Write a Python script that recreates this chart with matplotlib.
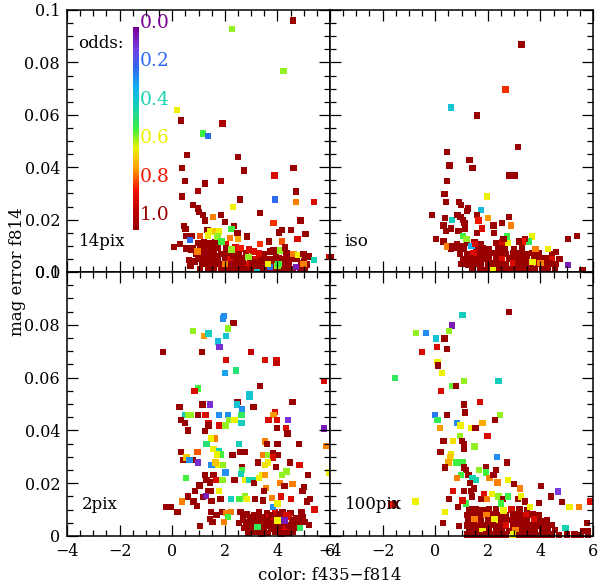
import numpy as np
import matplotlib.pyplot as plt
from matplotlib.colors import LinearSegmentedColormap
from matplotlib.ticker import MultipleLocator, FixedLocator, FixedFormatter

# colour scale for the photo-z odds
odds_stops = [0.0, 0.1, 0.2, 0.3, 0.4, 0.5, 0.6, 0.7, 0.8, 0.9, 1.0]
odds_colors = ['#76008f', '#7a3ce0', '#2f6af2', '#14b2f0', '#16d4b0', '#3cf040',
               '#eef200', '#ff9c00', '#f21600', '#c00000', '#990000']
odds_ticks = [0.0, 0.2, 0.4, 0.6, 0.8, 1.0]

xticks = [-4, -2, 0, 2, 4, 6]
yticks = [0.0, 0.02, 0.04, 0.06, 0.08, 0.1]
ylabels_top = ['0.0', '0.02', '0.04', '0.06', '0.08', '0.1']
ylabels_bot = ['0', '0.02', '0.04', '0.06', '0.08', '0.1']

# (color f435-f814, mag error f814 in 1e-3 mag, odds)
pts_14pix = [
    # dense clump
    (1.0, 11.0, 1), (1.2, 11.3, 1), (1.45, 11.0, 1), (1.65, 11.2, 1), (2.05, 10.8, .85),
    (0.8, 9.2, 1), (1.05, 9.0, 1), (1.3, 9.3, 1), (1.55, 8.8, 1), (1.75, 9.1, 1),
    (2.05, 9.2, 1), (2.4, 9.4, .85), (2.6, 9.0, .8),
    (0.9, 6.8, 1), (1.15, 7.2, 1), (1.35, 6.9, 1), (1.6, 7.1, 1), (1.85, 6.8, 1),
    (2.1, 7.0, 1), (2.35, 7.2, .85), (2.55, 6.8, 1), (2.8, 7.0, 1), (3.5, 6.8, 1),
    (3.95, 7.0, 1), (4.35, 7.2, 1),
    (0.65, 4.6, 1), (1.0, 5.0, 1), (1.25, 5.2, 1), (1.5, 4.8, 1), (1.75, 5.0, 1),
    (2.0, 5.2, 1), (2.2, 4.8, .85), (2.45, 5.0, 1), (2.7, 5.2, 1), (2.95, 4.8, 1),
    (3.2, 5.0, .85), (3.4, 5.2, 1), (3.6, 4.8, 1), (3.85, 5.0, 1), (4.05, 5.2, 1),
    (4.3, 4.8, 1), (4.5, 5.0, 1), (4.75, 5.2, 1), (5.0, 4.8, 1),
    (0.7, 2.5, 1), (1.15, 3.0, 1), (1.4, 2.8, 1), (1.65, 3.2, 1), (1.9, 2.8, 1),
    (2.15, 3.1, 1), (2.4, 2.9, 1), (2.6, 3.2, 1), (2.85, 2.8, .85), (3.05, 3.0, 1),
    (3.3, 3.2, 1), (3.5, 2.8, 1), (3.8, 3.0, 1), (4.25, 3.1, 1), (4.45, 2.9, 1),
    (4.9, 3.2, 1), (5.1, 2.8, 1),
    (1.05, 1.0, 1), (1.35, 1.2, 1), (1.6, 0.8, 1), (1.85, 1.0, 1), (2.1, 1.2, 1),
    (2.3, 0.8, 1), (2.55, 1.0, 1), (2.75, 1.2, 1), (3.0, 0.8, 1), (3.25, 1.0, 1),
    (3.45, 1.2, 1), (3.7, 0.8, 1), (3.9, 1.0, 1), (4.15, 1.2, 1), (4.35, 0.8, 1),
    (4.6, 1.0, 1), (4.85, 1.2, 1), (5.05, 0.8, 1),
    (0.85, 4.0, 1), (1.3, 6.0, 1), (1.7, 6.2, 1), (2.3, 6.0, 1), (2.7, 3.9, 1),
    (3.1, 3.9, 1), (3.6, 4.0, 1), (4.1, 4.0, 1), (2.5, 1.9, 1), (3.35, 2.0, 1),
    # scattered points
    (4.59, 96.0, 1), (2.27, 92.8, .55), (4.23, 76.8, .55), (0.19, 61.8, .6),
    (0.34, 57.8, 1), (1.91, 56.7, .95), (1.17, 52.8, .5), (1.35, 51.8, .2),
    (0.56, 44.7, 1), (2.50, 43.8, 1), (0.38, 39.7, 1), (4.61, 39.7, 1),
    (2.74, 38.7, 1), (3.89, 36.8, .85), (0.48, 34.7, 1), (1.85, 34.7, .95),
    (1.25, 33.8, 1), (0.97, 30.8, .95), (4.70, 30.7, 1), (0.38, 28.8, 1),
    (2.59, 27.7, 1), (3.90, 27.7, .2), (4.70, 26.7, .72), (5.38, 26.7, .85),
    (0.80, 25.6, 1), (0.99, 24.3, 1), (2.31, 24.7, .6), (3.34, 22.6, 1),
    (1.18, 21.8, 1), (1.02, 22.9, 1), (1.86, 21.8, 1), (1.54, 20.9, .72),
    (4.88, 19.6, 1), (1.24, 19.7, 1), (2.00, 19.1, 1), (3.85, 18.6, .78),
    (0.45, 17.6, 1), (2.35, 17.6, 1), (2.26, 16.4, .5), (1.34, 16.0, 1),
    (4.18, 16.0, 1), (4.52, 16.0, 1), (0.50, 16.4, 1), (4.05, 15.1, 1),
    (5.07, 14.6, 1), (1.46, 15.4, .6), (1.62, 15.6, .65), (1.78, 15.5, .6),
    (2.48, 14.8, 1), (2.84, 13.6, 1), (0.52, 13.7, 1), (0.75, 13.7, 1),
    (1.06, 13.7, .75), (1.37, 14.0, .6), (1.72, 13.5, .55), (2.20, 12.9, .72),
    (2.51, 12.5, .68), (0.68, 12.2, .2), (1.88, 11.6, .5), (4.76, 12.5, .85),
    (3.67, 11.6, 1), (4.17, 11.6, .75), (3.34, 10.7, .78), (0.06, 9.5, 1),
    (0.30, 10.6, 1), (0.55, 9.0, 1), (0.74, 8.4, 1), (0.96, 7.8, .72),
    (2.26, 8.6, .55), (2.92, 8.6, .85), (3.09, 7.8, .85), (3.31, 7.1, .85),
    (3.72, 7.8, 1), (3.85, 8.2, 1), (4.10, 8.2, .55), (4.29, 9.4, 1),
    (4.61, 6.9, .72), (4.80, 6.5, .6), (4.99, 6.9, 1), (5.21, 5.9, 1),
    (5.39, 4.6, .4), (5.96, 5.7, .85), (2.90, 5.7, .55), (4.70, 2.0, .05),
    (3.71, 2.0, .2), (4.01, 2.2, .55), (3.22, 0.0, .35), (3.65, 3.0, .6),
    (4.04, 3.0, .5), (2.01, 3.0, .72), (4.99, 3.0, .72),
]

pts_iso = [
    (1.2, 11.0, 1), (1.5, 11.2, 1), (1.75, 10.8, 1), (2.3, 11.0, 1), (2.55, 11.2, .85),
    (0.6, 9.0, 1), (0.85, 9.2, 1), (1.1, 8.8, 1), (1.55, 9.0, 1), (1.8, 9.2, 1),
    (2.05, 8.8, 1), (2.4, 9.0, 1), (2.65, 9.2, 1), (3.0, 8.8, 1), (3.3, 9.0, 1),
    (0.95, 7.0, 1), (1.2, 6.8, 1), (1.45, 7.2, .85), (1.7, 7.0, 1), (1.95, 6.8, 1),
    (2.2, 7.2, 1), (2.45, 7.0, 1), (2.7, 6.8, 1), (2.95, 7.2, 1), (3.2, 7.0, 1),
    (3.45, 6.8, 1), (3.7, 7.2, 1), (3.95, 7.0, 1), (4.45, 6.8, 1),
    (1.05, 5.0, 1), (1.3, 5.2, 1), (1.55, 4.8, 1), (1.8, 5.0, 1), (2.05, 5.2, 1),
    (2.3, 4.8, 1), (2.55, 5.0, .85), (2.8, 5.2, 1), (3.0, 4.8, 1), (3.25, 5.0, 1),
    (3.5, 5.2, 1), (3.75, 4.8, 1), (4.0, 5.0, 1), (4.2, 5.2, 1), (4.45, 4.8, .85),
    (4.7, 5.0, 1),
    (1.0, 3.0, 1), (1.25, 2.8, 1), (1.5, 3.2, 1), (1.75, 3.0, 1), (2.0, 2.8, 1),
    (2.25, 3.2, 1), (2.45, 3.0, 1), (2.7, 2.8, 1), (2.95, 3.2, .85), (3.15, 3.0, 1),
    (3.4, 2.8, 1), (3.65, 3.2, 1), (3.9, 3.0, 1), (4.1, 2.8, 1), (4.35, 3.2, 1),
    (4.6, 3.0, 1),
    (1.4, 1.0, 1), (1.7, 1.2, 1), (1.95, 0.8, 1), (2.2, 1.0, 1), (2.45, 1.2, 1),
    (2.65, 0.8, 1), (2.9, 1.0, 1), (3.1, 1.2, 1), (3.35, 0.8, 1), (3.55, 1.0, 1),
    (3.8, 1.2, 1), (4.05, 0.8, 1), (4.3, 1.0, 1), (4.55, 1.2, 1),
    (3.28, 86.9, 1), (2.67, 69.7, .78), (0.61, 62.8, .35), (1.58, 59.8, 1),
    (3.14, 47.8, 1), (0.46, 45.7, 1), (1.30, 42.7, 1), (0.54, 40.7, 1),
    (1.42, 39.7, 1), (2.81, 36.8, 1), (3.03, 36.8, 1), (0.44, 34.7, 1),
    (0.35, 29.8, 1), (1.96, 28.8, .6), (0.40, 26.6, 1), (0.91, 26.6, 1),
    (0.99, 25.6, 1), (1.25, 24.2, 1), (1.20, 23.2, 1), (1.73, 23.7, .33),
    (-0.13, 21.8, 1), (0.38, 20.7, 1), (0.63, 19.8, .38), (0.85, 21.8, 1),
    (0.96, 20.9, 1), (1.06, 19.8, 1), (1.12, 18.8, 1), (1.58, 21.8, 1),
    (1.64, 19.6, .8), (2.00, 20.7, .7), (2.81, 20.9, 1), (2.53, 18.8, 1),
    (2.22, 17.8, 1), (2.88, 17.8, .72), (0.32, 17.8, 1), (0.40, 15.7, 1),
    (0.60, 16.6, 1), (0.88, 15.7, 1), (1.14, 16.6, 1), (1.58, 15.0, 1),
    (1.77, 16.6, .85), (2.23, 14.8, 1), (0.03, 12.6, 1), (0.32, 11.6, 1),
    (1.06, 13.7, .5), (1.19, 12.5, .55), (2.72, 13.5, .5), (2.78, 11.0, .6),
    (2.60, 12.5, 1), (3.67, 13.5, .6), (3.57, 11.6, .48), (3.42, 12.5, 1),
    (3.35, 11.6, .8), (3.19, 11.6, 1), (5.06, 12.7, 1), (5.39, 13.7, 1),
    (0.44, 9.7, .72), (0.63, 9.7, 1), (0.82, 10.6, 1), (1.01, 9.7, 1),
    (1.38, 9.9, .3), (1.52, 10.8, .85), (3.82, 8.7, .72), (4.30, 8.7, .6),
    (4.60, 7.6, 1), (4.72, 5.0, 1), (5.06, 2.7, .05), (5.60, 0.8, 1),
    (-3.95, 5.7, 1), (2.19, 0.8, .6), (3.70, 3.8, .6), (4.00, 3.5, .72),
]

pts_2pix = [
    (2.6, 9.0, 1), (3.3, 9.2, 1), (3.6, 8.8, 1), (3.9, 9.0, .85), (4.2, 9.2, 1), (4.5, 8.8, 1),
    (2.7, 7.0, 1), (2.95, 7.2, 1), (3.2, 6.8, 1), (3.45, 7.0, 1), (3.7, 7.2, .85),
    (3.95, 6.8, 1), (4.2, 7.0, 1), (4.45, 7.2, .85), (4.7, 6.8, 1), (4.95, 7.0, 1),
    (2.55, 5.0, 1), (2.8, 5.2, 1), (3.05, 4.8, 1), (3.3, 5.0, 1), (3.55, 5.2, 1),
    (3.8, 4.8, 1), (4.05, 5.0, .85), (4.3, 5.2, 1), (4.55, 4.8, .85), (4.8, 5.0, 1),
    (5.05, 5.2, 1),
    (2.75, 3.0, 1), (3.0, 2.8, 1), (3.25, 3.2, 1), (3.5, 3.0, 1), (3.75, 2.8, 1),
    (4.0, 3.2, 1), (4.25, 3.0, .85), (4.5, 2.8, 1), (4.75, 3.2, 1),
    (2.9, 1.2, 1), (3.15, 1.4, 1), (3.4, 1.0, 1), (3.65, 1.2, 1), (3.9, 1.4, 1),
    (4.15, 1.0, 1), (4.4, 1.2, 1), (4.6, 1.4, 1),
    (2.85, 8.2, 1), (3.1, 8.0, 1), (3.75, 8.0, 1), (4.05, 8.1, 1), (4.35, 8.0, .85),
    (2.7, 6.0, 1), (3.0, 6.1, 1), (3.35, 6.0, 1), (3.65, 6.1, 1), (3.95, 6.0, 1),
    (4.25, 6.1, 1), (4.6, 6.0, 1), (3.1, 4.0, 1), (3.4, 4.1, 1), (3.7, 4.0, 1),
    (4.1, 4.0, 1), (4.4, 4.1, 1), (4.65, 4.0, 1), (3.0, 2.1, 1), (3.5, 2.0, 1),
    (4.0, 2.1, 1), (4.5, 2.0, 1),
    (1.97, 83.4, .25), (1.92, 82.4, .25), (2.33, 80.8, 1), (2.11, 78.6, .55),
    (0.78, 77.7, .55), (1.22, 75.7, .7), (1.38, 76.7, .38), (2.05, 75.7, .35),
    (1.73, 73.7, .33), (1.80, 71.7, .08), (-0.35, 69.8, 1), (1.13, 69.8, 1),
    (2.99, 69.8, .9), (2.04, 66.6, .85), (3.54, 66.6, .85), (3.96, 66.6, .85),
    (3.96, 65.5, .9), (2.42, 62.7, .45), (2.01, 61.7, .28), (5.77, 58.8, .85),
    (3.33, 56.8, 1), (0.97, 55.9, .5), (0.85, 54.9, .85), (2.94, 53.7, .35),
    (2.94, 52.7, .35), (4.57, 50.8, 1), (2.48, 50.8, 1), (2.46, 49.8, .35),
    (0.28, 48.8, 1), (1.15, 49.8, 1), (1.44, 49.8, .08), (3.09, 48.8, 1),
    (2.65, 47.9, .25), (3.91, 46.9, .85), (3.85, 45.9, .7), (0.48, 45.9, .38),
    (0.60, 45.9, .55), (0.72, 45.9, .55), (0.97, 45.9, 1), (1.27, 45.9, .85),
    (1.77, 45.9, .25), (2.11, 45.9, .25), (2.63, 45.9, .48), (0.34, 43.9, 1),
    (0.48, 42.9, 1), (2.16, 43.9, .55), (2.37, 43.9, .6), (2.63, 42.9, .38),
    (3.66, 43.9, .85), (3.99, 43.9, .85), (4.41, 43.9, .08), (1.38, 42.9, .85),
    (1.38, 41.9, 1), (1.77, 41.9, .85), (2.03, 41.9, .55), (4.33, 40.8, .85),
    (4.38, 38.8, 1), (3.99, 40.8, 1), (1.24, 39.8, 1), (0.61, 39.9, 1),
    (1.62, 36.9, .72), (1.48, 36.9, .6), (1.30, 34.9, .45), (1.57, 32.9, .6),
    (1.79, 32.0, .4), (2.53, 34.9, .38), (3.52, 35.8, .72), (3.60, 34.8, 1),
    (4.01, 34.9, 1), (4.81, 34.9, 1), (1.83, 30.9, .5), (1.70, 30.9, .6),
    (2.29, 30.8, 1), (2.57, 31.9, 1), (2.75, 31.9, 1), (0.33, 31.9, 1),
    (0.96, 31.9, .75), (0.41, 28.8, 1), (0.78, 28.8, 1), (0.55, 29.8, .65),
    (0.66, 28.8, .25), (0.99, 27.8, .08), (3.47, 30.8, .72), (3.65, 30.8, .55),
    (3.84, 31.5, 1), (4.00, 30.8, 1), (3.83, 29.8, .85), (3.27, 27.8, 1),
    (3.65, 27.8, .6), (3.52, 26.9, .62), (4.49, 27.8, 1), (4.84, 26.8, .85),
    (1.71, 26.9, .6), (1.50, 26.9, .25), (1.65, 27.9, .65), (1.92, 26.9, .55),
    (2.02, 24.1, .25), (2.65, 26.2, 1), (2.66, 25.0, .5), (2.62, 23.4, .38),
    (3.95, 26.2, 1), (4.34, 24.5, .55), (4.18, 23.1, .55), (0.53, 22.0, .5),
    (1.57, 23.0, 1), (1.24, 23.0, 1), (1.30, 21.2, 1), (1.43, 20.2, 1),
    (1.66, 21.2, .85), (1.91, 21.2, .55), (2.37, 21.2, 1), (2.79, 21.2, .6),
    (2.92, 21.2, .4), (3.06, 21.2, .4), (3.10, 20.0, 1), (5.16, 23.0, 1),
    (3.29, 22.0, .6), (3.44, 23.0, .6), (3.52, 23.1, .7), (4.10, 20.0, .72),
    (4.58, 19.8, .72), (4.27, 19.0, 1), (1.04, 19.1, 1), (1.48, 17.1, 1),
    (1.35, 17.1, 1), (1.77, 17.1, .6), (0.87, 17.1, 1), (1.18, 14.8, 1),
    (3.57, 18.1, .72), (3.48, 17.1, 1), (3.46, 13.5, 1), (0.61, 15.0, 1),
    (0.38, 13.0, .72), (0.81, 13.0, 1), (0.94, 11.3, 1), (1.29, 15.2, .05),
    (1.50, 13.3, 1), (1.84, 14.0, 1), (2.23, 14.0, .38), (2.56, 14.0, .5),
    (2.76, 15.0, .55), (2.85, 14.0, .6), (3.16, 14.0, 1), (3.80, 14.5, .72),
    (4.14, 15.0, .85), (4.52, 14.0, .85), (5.13, 13.1, 1), (5.25, 14.0, 1),
    (4.96, 17.1, 1), (5.00, 18.5, 1), (-0.22, 11.0, 1), (-0.04, 11.0, 1),
    (0.20, 9.0, 1), (1.06, 3.9, 1), (1.48, 9.0, 1), (1.89, 9.0, 1),
    (2.05, 8.6, .72), (2.24, 9.1, .72), (2.13, 7.2, .5), (1.97, 5.2, .72),
    (1.69, 8.0, 1), (1.53, 5.2, 1), (1.43, 6.5, 1), (5.41, 10.0, .85),
    (4.92, 9.0, 1), (5.21, 4.1, 1), (4.86, 3.0, .48), (4.01, 5.9, .6),
    (4.27, 5.9, .05), (3.25, 3.4, .48), (3.84, 11.1, .25), (4.00, 12.3, .6),
    (5.78, 40.7, .05), (5.85, 34.0, .72), (5.95, 24.1, .6),
]

pts_100pix = [
    (1.3, 10.0, 1), (1.55, 10.2, 1), (1.8, 9.8, 1), (2.05, 10.0, 1), (2.3, 10.2, 1),
    (2.6, 9.8, 1), (2.9, 10.0, .85), (3.2, 10.2, 1), (3.5, 9.8, 1),
    (1.2, 8.0, 1), (1.45, 8.2, 1), (1.7, 7.8, 1), (1.95, 8.0, .72), (2.2, 8.2, 1),
    (2.45, 7.8, 1), (2.7, 8.0, 1), (2.95, 8.2, 1), (3.2, 7.8, 1), (3.45, 8.0, .85),
    (3.7, 8.2, 1), (3.95, 7.8, 1),
    (1.25, 6.0, 1), (1.5, 6.2, .72), (1.75, 5.8, 1), (2.0, 6.0, 1), (2.25, 6.2, .6),
    (2.5, 5.8, 1), (2.75, 6.0, 1), (3.0, 6.2, 1), (3.25, 5.8, 1), (3.5, 6.0, 1),
    (3.75, 6.2, .85), (4.0, 5.8, 1), (4.25, 6.0, 1),
    (1.2, 4.0, 1), (1.45, 4.2, 1), (1.7, 3.8, 1), (1.95, 4.0, 1), (2.2, 4.2, 1),
    (2.45, 3.8, 1), (2.7, 4.0, .85), (2.95, 4.2, 1), (3.2, 3.8, 1), (3.45, 4.0, 1),
    (3.7, 4.2, 1), (3.95, 3.8, 1), (4.2, 4.0, 1), (4.45, 4.2, 1),
    (1.3, 2.0, 1), (1.55, 2.2, 1), (1.8, 1.8, .6), (2.05, 2.0, 1), (2.3, 2.2, 1),
    (2.55, 1.8, 1), (2.8, 2.0, 1), (3.05, 2.2, .72), (3.3, 1.8, 1), (3.55, 2.0, 1),
    (3.8, 2.2, 1), (4.05, 1.8, 1), (4.3, 2.0, 1), (4.55, 2.2, 1),
    (1.2, 0.5, 1), (1.45, 0.6, 1), (1.7, 0.4, 1), (1.95, 0.5, 1), (2.2, 0.6, 1),
    (2.45, 0.4, 1), (2.7, 0.5, 1), (2.95, 0.6, .6), (3.2, 0.4, 1), (3.45, 0.5, 1),
    (3.7, 0.6, 1), (3.95, 0.4, 1), (4.2, 0.5, 1), (4.45, 0.6, 1), (4.7, 0.4, 1),
    (5.0, 0.5, 1), (5.3, 0.6, 1), (5.55, 0.4, 1), (5.8, 0.5, 1),
    (2.81, 84.8, 1), (1.04, 83.7, .38), (0.63, 79.8, .05), (0.53, 77.6, .55),
    (-0.73, 76.9, .55), (-0.34, 76.9, .25), (0.04, 74.8, .35), (0.35, 74.8, 1),
    (0.06, 71.7, .85), (0.46, 70.8, 1), (-0.51, 69.8, .85), (0.09, 65.9, .6),
    (0.10, 64.6, 1), (0.25, 61.8, .6), (-1.52, 59.8, .47), (1.09, 58.8, .55),
    (2.41, 58.8, .38), (0.63, 56.8, .52), (0.78, 56.8, 1), (0.23, 54.9, .85),
    (1.70, 50.8, .85), (1.10, 49.8, 1), (1.14, 46.8, 1), (0.44, 45.9, 1),
    (0.00, 45.9, .22), (0.09, 43.9, .48), (2.47, 45.9, .55), (2.28, 43.9, 1),
    (0.82, 42.9, .25), (0.96, 41.9, .6), (1.80, 42.9, .68), (1.35, 40.8, .6),
    (1.53, 40.8, 1), (0.19, 40.8, .7), (0.94, 37.9, .55), (1.99, 37.9, .85),
    (0.32, 35.9, 1), (0.68, 35.9, .62), (1.03, 35.9, 1), (1.10, 34.9, 1),
    (1.10, 32.9, 1), (1.49, 33.9, .55), (0.20, 31.9, 1), (0.59, 30.9, .62),
    (0.57, 29.8, .65), (2.35, 30.0, .25), (2.72, 27.8, 1), (0.51, 27.8, .68),
    (0.78, 27.8, .5), (1.04, 27.8, .5), (0.38, 25.9, 1), (1.10, 25.9, 1),
    (1.16, 24.9, 1), (1.67, 24.9, .55), (1.93, 25.9, 1), (2.32, 24.9, 1),
    (0.97, 23.0, .5), (0.82, 22.0, .72), (1.26, 23.0, 1), (1.42, 22.0, .4),
    (1.56, 21.1, .4), (1.93, 24.0, .5), (2.06, 22.0, .72), (2.21, 23.0, 1),
    (2.37, 20.3, .72), (1.33, 20.0, 1), (2.78, 21.1, .6), (2.99, 19.8, 1),
    (3.23, 18.0, .72), (4.03, 19.0, 1), (4.67, 16.9, .1), (4.41, 15.0, 1),
    (4.82, 12.9, 1), (5.10, 11.0, .6), (5.46, 11.0, .72), (5.89, 13.1, .85),
    (0.67, 17.1, .85), (1.09, 17.1, 1), (1.35, 17.1, 1), (1.48, 18.0, 1),
    (0.52, 14.0, 1), (0.86, 11.1, 1), (1.18, 12.3, .5), (1.04, 13.5, .85),
    (1.39, 15.0, 1), (1.73, 14.0, 1), (1.86, 16.0, .85), (1.96, 14.0, .72),
    (2.15, 16.0, .6), (2.40, 15.0, .55), (2.59, 14.0, 1), (2.51, 12.3, .5),
    (2.78, 15.0, .5), (3.14, 14.0, 1), (3.27, 15.0, .6), (3.42, 13.0, 1),
    (0.38, 9.0, .6), (-0.75, 13.0, .6), (-1.68, 12.0, .8), (-1.52, 12.0, 1),
    (0.30, 4.9, 1), (0.91, 3.9, 1), (4.96, 3.0, .4), (5.76, 5.0, 1),
    (5.62, 2.0, 1), (5.80, 2.0, 1), (3.95, 12.5, 1), (3.60, 11.0, .6),
    (2.60, 9.6, .6),
]

panels = [('14pix', pts_14pix), ('iso', pts_iso), ('2pix', pts_2pix), ('100pix', pts_100pix)]

cmap = LinearSegmentedColormap.from_list('odds', list(zip(odds_stops, odds_colors)))

plt.rcParams['font.family'] = 'DejaVu Serif'
plt.rcParams['font.size'] = 11.5

fig = plt.figure(figsize=(6.0, 5.87), dpi=100)

W = 263 / 600
boxes = [
    [67 / 600, 1 - 272 / 587, W, 262 / 587],
    [330 / 600, 1 - 272 / 587, W, 262 / 587],
    [67 / 600, 1 - 536 / 587, W, 264 / 587],
    [330 / 600, 1 - 536 / 587, W, 264 / 587],
]

for i, (name, pts) in enumerate(panels):
    ax = fig.add_axes(boxes[i])
    arr = np.array(pts)
    ax.scatter(arr[:, 0], arr[:, 1] / 1000.0, c=arr[:, 2], cmap=cmap, vmin=0, vmax=1,
               marker='s', s=21, linewidths=0, clip_on=False)
    ax.set_xlim(-4, 6)
    ax.set_ylim(0, 0.1)
    ax.xaxis.set_major_locator(FixedLocator(xticks))
    ax.xaxis.set_minor_locator(MultipleLocator(0.5))
    ax.yaxis.set_major_locator(FixedLocator(yticks))
    ax.yaxis.set_minor_locator(MultipleLocator(0.005))
    ax.tick_params(which='both', direction='in', top=True, right=True, width=0.9,
                   labelsize=11.5, pad=5)
    ax.tick_params(which='major', length=8)
    ax.tick_params(which='minor', length=4)
    for sp in ax.spines.values():
        sp.set_linewidth(1.1)
    if i % 2 == 0:
        lab = ylabels_top if i == 0 else ylabels_bot
        ax.yaxis.set_major_formatter(FixedFormatter(lab))
    else:
        ax.set_yticklabels([])
    if i < 2:
        ax.set_xticklabels([])
    ax.text(0.045 if i == 0 else 0.055, 0.118, name, transform=ax.transAxes,
            fontsize=12, va='center', ha='left')
    if i == 0:
        ax.text(0.042, 0.874, 'odds:', transform=ax.transAxes, fontsize=12,
                va='center', ha='left')

# colour bar drawn inside the first panel
cax = fig.add_axes([132.5 / 600, 1 - 230 / 587, 5.5 / 600, 203 / 587])
grad = np.linspace(0, 1, 256).reshape(-1, 1)
cax.imshow(grad, cmap=cmap, aspect='auto', extent=[0, 1, 1, 0])
cax.set_axis_off()
for v in odds_ticks:
    fig.text(140 / 600, 1 - (23 + 192 * v) / 587, f'{v:.1f}', color=cmap(v),
             fontsize=13.5, va='center', ha='left')

fig.text(0.03, 1 - 272 / 587, 'mag error f814', rotation=90, va='center', ha='center',
         fontsize=12)
fig.text(0.55, 1 - 576 / 587, 'color: f435\u2212f814', va='center', ha='center', fontsize=12)

fig.savefig('out.png', dpi=100)
